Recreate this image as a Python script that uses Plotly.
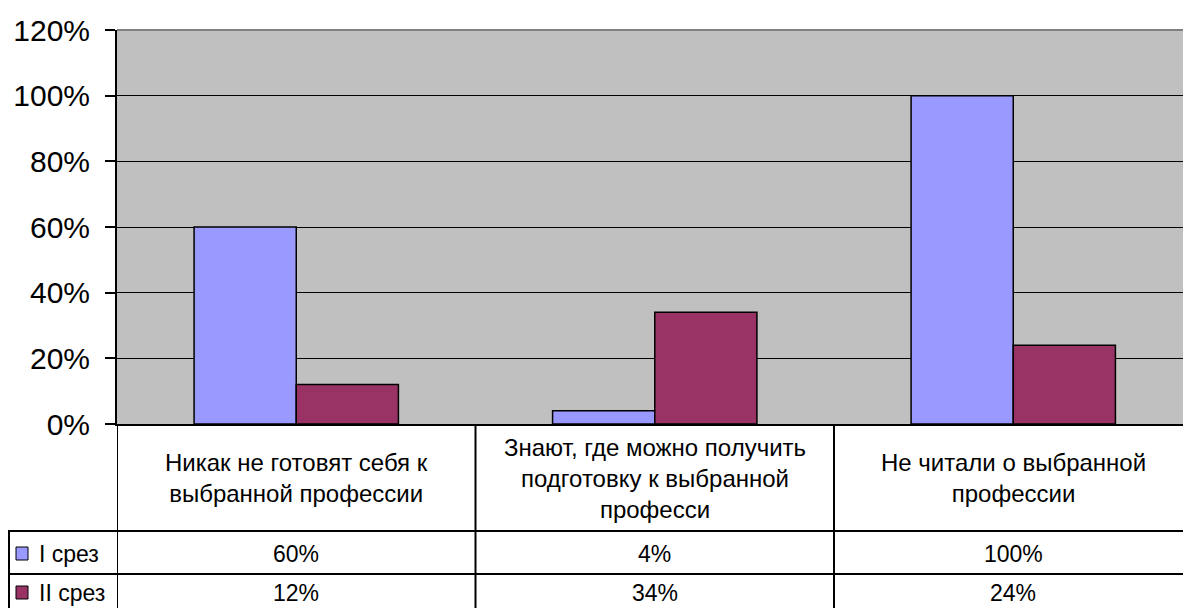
import plotly.graph_objects as go

categories = [
    "Никак не готовят себя к<br>выбранной профессии",
    "Знают, где можно получить<br>подготовку к выбранной<br>професси",
    "Не читали о выбранной<br>профессии",
]
series_names = ["I срез", "II срез"]
srez_1 = [0.60, 0.04, 1.00]
srez_2 = [0.12, 0.34, 0.24]
y_ticks = [0, 0.2, 0.4, 0.6, 0.8, 1.0, 1.2]

_COLORS = ["#9999FF", "#993366"]
_FONT = "Liberation Sans, Arial, sans-serif"

# body margin is removed in the page (see post_script), so page px == figure px
W, H = 1183, 608
ML, MT = 117, 30
PW = W - ML
PH = 424 - MT
MB = H - MT - PH
CAT_STEP = 358.5  # px per category


def px(x):
    """page pixel x -> paper x"""
    return (x - ML) / PW


def py(y):
    """page pixel y -> paper y"""
    return (MT + PH - y) / PH


fig = go.Figure()
for name, vals, col in zip(series_names, [srez_1, srez_2], _COLORS):
    fig.add_trace(go.Bar(
        x=list(range(len(categories))), y=vals, name=name,
        marker={"color": col, "line": {"color": "black", "width": 1.5}},
    ))

shapes = []
annotations = []

# top border of plot area
shapes.append(dict(type="line", xref="paper", yref="paper", x0=0, x1=1, y0=1, y1=1,
                   line={"color": "#808080", "width": 2}, layer="above"))

# data table grid
row_lines = [531, 574]
table_bottom = 620
for yy in row_lines:
    shapes.append(dict(type="line", xref="paper", yref="paper", x0=px(8), x1=1,
                       y0=py(yy), y1=py(yy), line={"color": "black", "width": 2}))
shapes.append(dict(type="line", xref="paper", yref="paper", x0=px(9), x1=px(9),
                   y0=py(row_lines[0]), y1=py(table_bottom), line={"color": "black", "width": 2}))
for i in range(len(categories)):
    shapes.append(dict(type="line", xref="x", yref="paper", x0=i - 0.5, x1=i - 0.5,
                       y0=0, y1=py(table_bottom), line={"color": "black", "width": 2}))

row_centers = [554, 593]
for i, cat in enumerate(categories):
    annotations.append(dict(x=i, xref="x", y=py(478), yref="paper", text=cat,
                            showarrow=False, font={"size": 24, "family": _FONT, "color": "black"},
                            xanchor="center", yanchor="middle", align="center"))
    for vals, yc in zip([srez_1, srez_2], row_centers):
        annotations.append(dict(x=i, xref="x", y=py(yc), yref="paper", text=f"{round(vals[i] * 100)}%",
                                showarrow=False, font={"size": 23, "family": _FONT, "color": "black"},
                                xanchor="center", yanchor="middle"))

# legend keys inside the table
for name, col, yc in zip(series_names, _COLORS, row_centers):
    shapes.append(dict(type="rect", xref="paper", yref="paper", x0=px(16), x1=px(28),
                       y0=py(yc - 7), y1=py(yc + 6), fillcolor=col,
                       line={"color": "black", "width": 1}))
    annotations.append(dict(x=px(37), xref="paper", y=py(yc), yref="paper", text=name,
                            showarrow=False, font={"size": 23, "family": _FONT, "color": "black"},
                            xanchor="left", yanchor="middle"))

fig.update_layout(
    width=W, height=H,
    margin={"l": ML, "r": 0, "t": MT, "b": MB, "pad": 0},
    paper_bgcolor="white", plot_bgcolor="#C0C0C0",
    barmode="group", bargap=0.43, bargroupgap=0,
    showlegend=False,
    font={"family": _FONT, "color": "black"},
    xaxis={"range": [-0.5, -0.5 + PW / CAT_STEP], "showticklabels": False, "showgrid": False,
           "zeroline": False, "showline": True, "linecolor": "black", "linewidth": 2,
           "ticks": ""},
    yaxis={"range": [0, 1.2], "tickvals": y_ticks, "tickformat": ".0%",
           "showgrid": True, "gridcolor": "black", "gridwidth": 1.2,
           "zeroline": False, "showline": True, "linecolor": "black", "linewidth": 2,
           "ticks": "outside", "ticklen": 10, "tickwidth": 1.5, "tickcolor": "black",
           "tickfont": {"size": 30, "family": _FONT, "color": "black"},
           "ticklabelstandoff": 9},
    shapes=shapes,
    annotations=annotations,
)

fig.write_html(
    "out.html",
    config={"displayModeBar": False},
    post_script="document.body.style.margin='0';document.body.style.overflow='hidden';",
)
